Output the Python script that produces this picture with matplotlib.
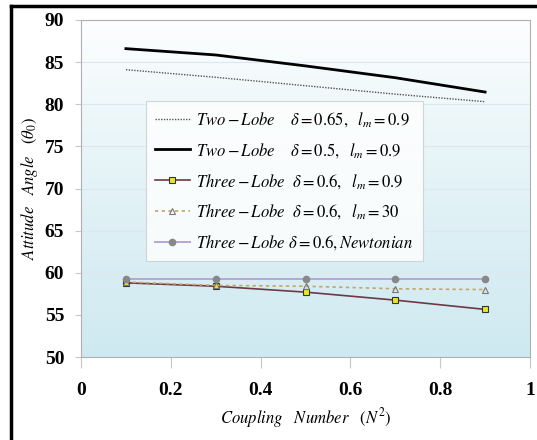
import numpy as np
import matplotlib.pyplot as plt
from matplotlib.lines import Line2D

# data
coupling = [0.1, 0.3, 0.5, 0.7, 0.9]
two_lobe_065 = [84.1, 83.2, 82.2, 81.2, 80.3]
two_lobe_05 = [86.6, 85.85, 84.55, 83.15, 81.45]
three_lobe_lm09 = [58.8, 58.4, 57.7, 56.75, 55.65]
three_lobe_lm30 = [58.9, 58.5, 58.4, 58.1, 58.0]
three_lobe_newt = [59.3, 59.3, 59.3, 59.3, 59.3]

labels = [
    r'$Two-Lobe\ \ \ \ \delta\,\!=\!\,0.65,\ \ l_m\,\!=\!\,0.9$',
    r'$Two-Lobe\ \ \ \ \delta\,\!=\!\,0.5,\ \ l_m\,\!=\!\,0.9$',
    r'$Three-Lobe\ \ \delta\,\!=\!\,0.6,\ \ l_m\,\!=\!\,0.9$',
    r'$Three-Lobe\ \ \delta\,\!=\!\,0.6,\ \ l_m\,\!=\!\,30$',
    r'$Three-Lobe\ \delta\,\!=\!\,0.6, Newtonian$',
]

plt.rcParams['font.family'] = ['Liberation Serif', 'DejaVu Serif']
plt.rcParams['mathtext.fontset'] = 'stix'

fig = plt.figure(figsize=(5.37, 4.40), dpi=100)
ax = fig.add_axes([81 / 537, 1 - 357 / 440, 449 / 537, 337 / 440])

# white-to-light-blue background
grad = np.linspace(0, 1, 256).reshape(-1, 1)
top = np.array([1.0, 1.0, 1.0])
bot = np.array([0.81, 0.915, 0.945])
img = top + (bot - top) * grad[:, :, None] ** 0.8
ax.imshow(img, extent=[0, 1, 50, 90], aspect='auto', zorder=0)

ax.plot(coupling, two_lobe_065, ls=(0, (1, 1)), color='#555555', lw=1.0, label=labels[0])
ax.plot(coupling, two_lobe_05, color='black', lw=2.0, label=labels[1])
ax.plot(coupling, three_lobe_lm09, color='#6e3844', lw=1.2, marker='s', ms=5,
        mfc='#e6e62a', mec='#333333', mew=0.8, label=labels[2])
ax.plot(coupling, three_lobe_lm30, color='#c8a468', lw=1.2, ls=(0, (2, 2)), marker='^', ms=5,
        mfc='none', mec='#777777', mew=0.8, label=labels[3])
ax.plot(coupling, three_lobe_newt, color='#b8a6d6', lw=1.4, marker='o', ms=4.5,
        mfc='#888888', mec='#888888', label=labels[4])

ax.set_xlim(0, 1)
ax.set_ylim(50, 90)
ax.set_xticks([0, 0.2, 0.4, 0.6, 0.8, 1])
ax.set_xticklabels(['0', '0.2', '0.4', '0.6', '0.8', '1'])
ax.set_yticks(range(50, 91, 5))
ax.yaxis.grid(True, color='#dde8ee', lw=0.8)
ax.set_axisbelow(True)
for lab in ax.get_xticklabels() + ax.get_yticklabels():
    lab.set_fontweight('bold')
    lab.set_fontsize(14)
ax.tick_params(axis='x', length=8, color='#c8c8c8', pad=10)
ax.tick_params(axis='y', length=4, color='#c8c8c8', pad=8)
for sp in ax.spines.values():
    sp.set_color('#b0b0b0')

ax.set_xlabel(r'$Coupling\quad Number\quad (N^2)$', fontsize=12)
ax.set_ylabel(r'$Attitude\quad Angle\quad (\theta_0)$', fontsize=12)
ax.xaxis.set_label_coords(0.5, -0.145)
ax.yaxis.set_label_coords(-0.092, 0.5)

leg = ax.legend(loc='upper left', bbox_to_anchor=(0.144, 0.76), borderaxespad=0,
                fontsize=12, frameon=True, fancybox=False, handlelength=2.1,
                handletextpad=0.4, borderpad=0.55, labelspacing=0.72)
leg.get_frame().set_edgecolor('#cccccc')
leg.get_frame().set_linewidth(0.8)

# black frame on the left and top of the figure
fig.add_artist(Line2D([11 / 537, 11 / 537], [0, 1 - 6 / 440], transform=fig.transFigure,
                      color='black', lw=2.5))
fig.add_artist(Line2D([11 / 537, 1], [1 - 6 / 440, 1 - 6 / 440], transform=fig.transFigure,
                      color='black', lw=2.5))

fig.savefig('out.png', dpi=100)
